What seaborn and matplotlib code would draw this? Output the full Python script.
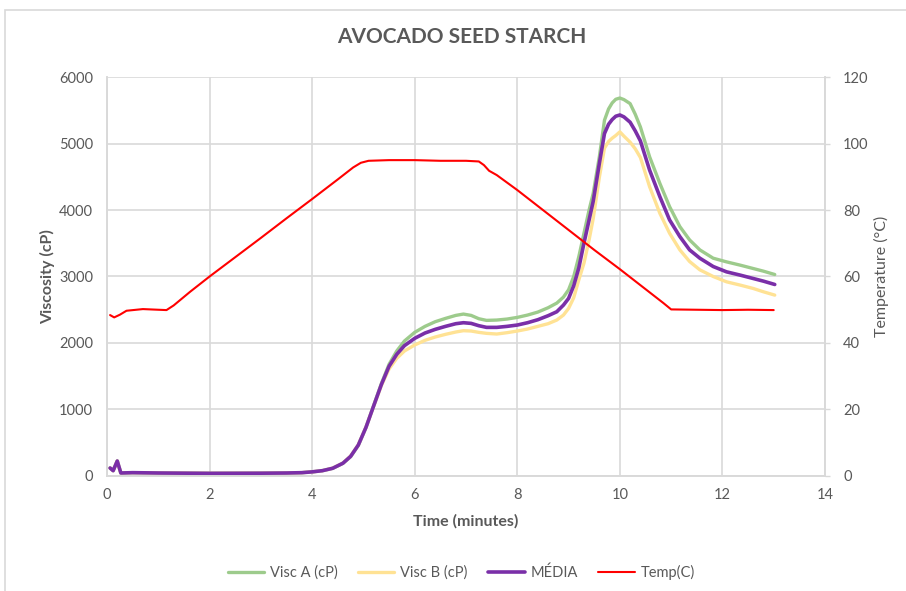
"""
Rapid visco profile of avocado seed starch: viscosity replicates A/B,
their mean (MÉDIA) and the temperature program on a second axis.
"""

import pandas as pd
import matplotlib.pyplot as plt
import seaborn as sns
from matplotlib.patches import Rectangle

sns.set_theme(style="whitegrid")
plt.rcParams["font.family"] = ["Lato", "DejaVu Sans"]

GRAY = "#595959"
GRID = "#D9D9D9"

# viscosity readings (cP), shared time base in minutes
time_min = [0.06, 0.12, 0.20, 0.27, 0.50, 1.00, 2.00, 3.00, 3.50, 3.80,
            4.00, 4.20, 4.40, 4.60, 4.75, 4.90, 5.05, 5.20, 5.35, 5.50,
            5.65, 5.80, 6.00, 6.20, 6.40, 6.60, 6.80, 6.95, 7.10, 7.25,
            7.40, 7.60, 7.80, 8.00, 8.20, 8.40, 8.60, 8.77, 8.90, 9.00,
            9.10, 9.20, 9.30, 9.40, 9.48, 9.60, 9.70, 9.78, 9.85, 9.92,
            10.00, 10.08, 10.20, 10.30, 10.40, 10.58, 10.78, 10.97, 11.17, 11.36,
            11.56, 11.82, 12.08, 12.35, 12.60, 12.80, 13.02]

visc_a = [120, 80, 225, 45, 50, 45, 40, 42, 45, 50,
          62, 80, 115, 190, 290, 460, 730, 1060, 1390, 1680,
          1880, 2030, 2160, 2250, 2320, 2370, 2415, 2435, 2415, 2365,
          2340, 2345, 2360, 2385, 2420, 2465, 2530, 2600, 2690, 2800,
          3000, 3300, 3650, 4000, 4250, 4800, 5350, 5520, 5610, 5665,
          5684, 5660, 5600, 5440, 5250, 4800, 4400, 4050, 3750, 3550,
          3400, 3275, 3220, 3170, 3120, 3080, 3030]

visc_b = [120, 80, 225, 45, 50, 45, 40, 42, 45, 50,
          62, 80, 118, 195, 300, 470, 735, 1050, 1360, 1610,
          1770, 1880, 1970, 2040, 2090, 2130, 2165, 2185, 2180, 2160,
          2145, 2135, 2155, 2180, 2210, 2250, 2290, 2345, 2420, 2520,
          2680, 2950, 3200, 3550, 3870, 4490, 4930, 5030, 5080, 5120,
          5175, 5110, 5020, 4920, 4790, 4350, 3950, 3650, 3400, 3225,
          3100, 3000, 2920, 2870, 2820, 2770, 2720]

visc_media = [120, 80, 225, 45, 50, 45, 40, 42, 45, 50,
              62, 80, 116, 192, 295, 465, 732, 1055, 1375, 1650,
              1830, 1960, 2070, 2150, 2205, 2250, 2290, 2305, 2295, 2260,
              2235, 2235, 2250, 2270, 2305, 2350, 2410, 2470, 2570, 2670,
              2860, 3130, 3500, 3850, 4130, 4700, 5150, 5290, 5360, 5410,
              5429, 5400, 5320, 5190, 5040, 4600, 4200, 3850, 3600, 3400,
              3275, 3150, 3070, 3020, 2970, 2930, 2880]

# temperature program (°C)
temp_time = [0.06, 0.14, 0.25, 0.38, 0.70, 1.00, 1.16, 1.30, 1.62, 2.00,
             2.50, 3.00, 3.50, 4.00, 4.50, 4.80, 4.95, 5.10, 5.50, 6.00,
             6.50, 7.00, 7.25, 7.35, 7.45, 7.60, 8.00, 8.50, 9.00, 9.50,
             10.00, 10.50, 10.85, 11.00, 11.50, 12.00, 12.50, 13.00]
temp_c = [48.4, 47.7, 48.5, 49.7, 50.2, 50.0, 49.9, 51.3, 55.4, 60.0,
          65.8, 71.6, 77.5, 83.3, 89.2, 92.8, 94.2, 94.8, 95.0, 95.0,
          94.8, 94.8, 94.6, 93.5, 91.8, 90.5, 86.0, 80.0, 74.0, 68.0,
          62.2, 56.2, 52.0, 50.1, 50.0, 49.9, 50.0, 49.9]

x_ticks = list(range(0, 15, 2))
visc_ticks = list(range(0, 7000, 1000))
temp_ticks = list(range(0, 140, 20))

visc_df = pd.DataFrame({"time": time_min, "Visc A (cP)": visc_a,
                        "Visc B (cP)": visc_b, "MÉDIA": visc_media})
temp_df = pd.DataFrame({"time": temp_time, "Temp(C)": temp_c})

fig = plt.figure(figsize=(9.06, 5.91), dpi=100)
ax = fig.add_axes([0.1181, 0.1946, 0.7925, 0.6751])
ax2 = ax.twinx()

sns.lineplot(data=visc_df, x="time", y="Visc A (cP)", ax=ax, color="#9DCB8C",
             lw=2.4, label="Visc A (cP)", legend=False)
sns.lineplot(data=visc_df, x="time", y="Visc B (cP)", ax=ax, color="#FFE294",
             lw=2.4, label="Visc B (cP)", legend=False)
sns.lineplot(data=visc_df, x="time", y="MÉDIA", ax=ax, color="#7A2FA8",
             lw=2.6, label="MÉDIA", legend=False)
sns.lineplot(data=temp_df, x="time", y="Temp(C)", ax=ax2, color="#FF0000",
             lw=1.5, label="Temp(C)", legend=False)

ax.set_xlim(0, 14)
ax.set_ylim(0, 6000)
ax2.set_ylim(0, 120)
ax.set_xticks(x_ticks)
ax.set_yticks(visc_ticks)
ax2.set_yticks(temp_ticks)
ax2.grid(False)
ax.grid(True, color=GRID, lw=1.2)
ax.set_facecolor("white")

for a in (ax, ax2):
    a.spines["top"].set_visible(False)
    for side in ("left", "right", "bottom"):
        a.spines[side].set_color(GRID)
        a.spines[side].set_linewidth(1.2)
    a.tick_params(length=0, labelsize=10.5, labelcolor=GRAY)
ax.tick_params(axis="y", pad=10)
ax.tick_params(axis="x", pad=9)
ax2.tick_params(axis="y", length=3.5, width=1.0, color=GRID, pad=9.5)

ax.set_xlabel("Time (minutes)", labelpad=8, fontsize=11.5, fontweight="bold",
              color=GRAY)
ax.set_ylabel("Viscosity (cP)", labelpad=3, fontsize=11.5, fontweight="bold",
              color=GRAY)
ax2.set_ylabel("Temperature (°C)", labelpad=4, fontsize=11.5, color=GRAY)

fig.suptitle("AVOCADO SEED STARCH", x=0.51, y=0.955, fontsize=15,
             fontweight="bold", color=GRAY)

handles = ax.get_lines()[:3] + ax2.get_lines()[:1]
fig.legend(handles, [h.get_label() for h in handles], loc="center",
           bbox_to_anchor=(0.509, 0.032), ncol=4, frameon=False,
           fontsize=10.5, labelcolor=GRAY, handlelength=2.5,
           columnspacing=1.4, handletextpad=0.4)

fig.patches.append(Rectangle((0.006, -0.01), 1.0, 0.993, transform=fig.transFigure,
                             fill=False, edgecolor=GRID, lw=1.2))

plt.savefig("out.png", dpi=100)
plt.close()
